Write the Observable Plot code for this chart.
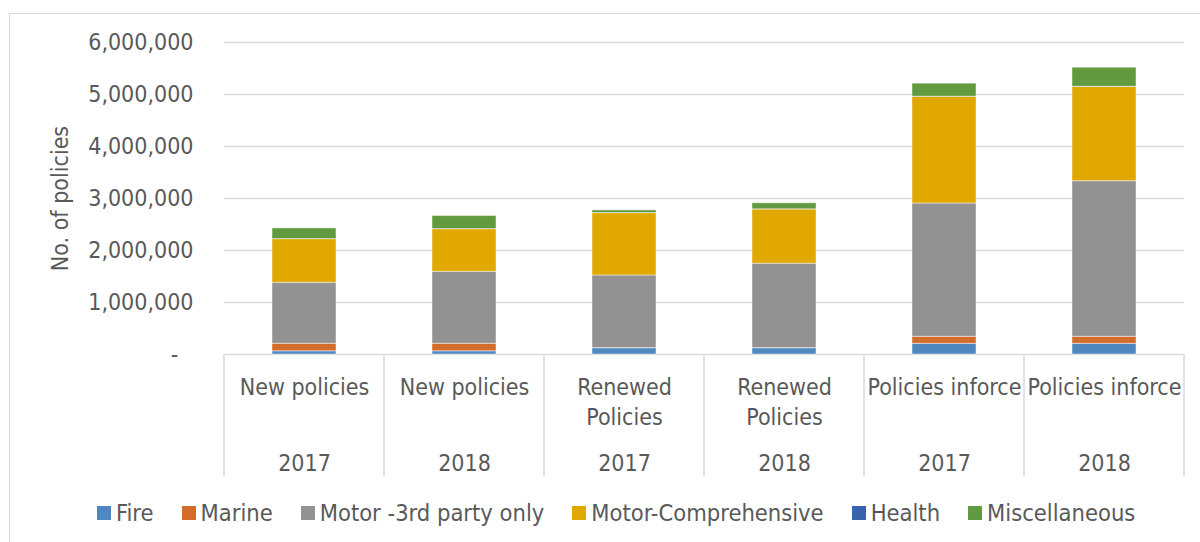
<!DOCTYPE html>
<html>
<head>
<meta charset="utf-8">
<script src="https://cdn.jsdelivr.net/npm/d3@7"></script>
<script src="https://cdn.jsdelivr.net/npm/@observablehq/plot@0.6"></script>
<style>
  html, body { margin: 0; padding: 0; background: #fff; overflow: hidden; }
  body { width: 1200px; height: 542px; position: relative; font-family: "DejaVu Sans Condensed", "DejaVu Sans", sans-serif; }
  #frame { position: absolute; left: 9px; top: 13px; width: 2000px; height: 2000px; border-left: 1.5px solid #d9d9d9; border-top: 1.5px solid #d9d9d9; pointer-events: none; }
  #chart { position: absolute; left: 0; top: 0; }
  #legend { position: absolute; left: 0; top: 495px; width: 1200px; height: 36px; display: flex; align-items: center; padding-left: 97px; box-sizing: border-box; font-size: 23.5px; color: #595959; }
  #legend .item { display: flex; align-items: center; margin-right: 28px; white-space: nowrap; }
  #legend .sw { width: 14px; height: 14px; margin-right: 5px; }
</style>
</head>
<body>
<div id="frame"></div>
<div id="chart"></div>
<div id="legend"></div>
<script>
// ---- data ----
const categories = ["New policies", "New policies", "Renewed\nPolicies", "Renewed\nPolicies", "Policies inforce", "Policies inforce"];
const years = ["2017", "2018", "2017", "2018", "2017", "2018"];
const seriesNames = ["Fire", "Marine", "Motor -3rd party only", "Motor-Comprehensive", "Health", "Miscellaneous"];
const seriesColors = ["#4f88c0", "#d36c2a", "#929292", "#e1a900", "#3a63ae", "#629a3f"];
const fire          = [62000, 62000, 121000, 121000, 205000, 205000];
const marine        = [144000, 144000, 3000, 3000, 135000, 135000];
const motorThird    = [1173000, 1384000, 1396000, 1622000, 2564000, 2993000];
const motorComp     = [839000, 820000, 1199000, 1044000, 2052000, 1814000];
const health        = [2000, 2000, 2000, 2000, 2000, 2000];
const miscellaneous = [205000, 250000, 50000, 116000, 250000, 366000];
const yTicks = [0, 1000000, 2000000, 3000000, 4000000, 5000000, 6000000];

const seriesValues = [fire, marine, motorThird, motorComp, health, miscellaneous];
const keys = categories.map((c, i) => c + "|" + years[i]);
const rows = [];
seriesNames.forEach((s, si) => {
  keys.forEach((k, i) => rows.push({key: k, series: s, value: seriesValues[si][i]}));
});
const catRows = keys.map((k, i) => ({key: k, cat: categories[i], year: years[i]}));

const textColor = "#595959";
const gridColor = "#d9d9d9";
const fmt = d => d === 0 ? "-\u2007\u200A" : d3.format(",")(d);

const plot = Plot.plot({
  width: 1200,
  height: 490,
  marginTop: 42,
  marginBottom: 136,
  marginLeft: 224,
  marginRight: 16,
  style: {fontFamily: '"DejaVu Sans Condensed", "DejaVu Sans", sans-serif', fontSize: "23px", color: textColor, background: "transparent", overflow: "visible"},
  x: {domain: keys, paddingInner: 0.6, paddingOuter: 0.3, axis: null},
  y: {domain: [0, 6000000], axis: null},
  color: {domain: seriesNames, range: seriesColors},
  marks: [
    Plot.gridY(yTicks, {stroke: gridColor, strokeOpacity: 1, strokeWidth: 1.5}),
    Plot.axisY(yTicks, {tickSize: 0, tickPadding: 31, tickFormat: fmt, fill: textColor, fontSize: 23, label: null}),
    Plot.barY(rows, Plot.stackY({order: seriesNames, x: "key", y: "value", fill: "series", stroke: "#ffffff", strokeWidth: 1, strokeOpacity: 0.45})),
    Plot.text(catRows, {x: "key", text: "cat", frameAnchor: "bottom", lineAnchor: "top", dy: 19, lineHeight: 1.3, fill: textColor, fontSize: 23}),
    Plot.text(catRows, {x: "key", text: "year", frameAnchor: "bottom", lineAnchor: "middle", dy: 109, fill: textColor, fontSize: 23}),
    Plot.text(["No. of policies"], {text: d => d, frameAnchor: "left", textAnchor: "middle", dx: -164, rotate: -90, fill: textColor, fontSize: 23})
  ]
});
document.getElementById("chart").appendChild(plot);

// category separators on the x axis, placed through the plot's own scales
const sx = plot.scale("x"), sy = plot.scale("y");
const step = sx.apply(keys[1]) - sx.apply(keys[0]);
const gap = (step - sx.bandwidth) / 2;
const bounds = keys.map(k => sx.apply(k) - gap).concat([sx.apply(keys[keys.length - 1]) + sx.bandwidth + gap]);
const y0 = sy.apply(0);
d3.select(plot).append("g")
  .selectAll("line").data(bounds).join("line")
  .attr("x1", d => d).attr("x2", d => d)
  .attr("y1", y0).attr("y2", y0 + 122)
  .attr("stroke", gridColor).attr("stroke-width", 1.5);

// legend
const legend = d3.select("#legend");
seriesNames.forEach((s, i) => {
  const it = legend.append("div").attr("class", "item");
  it.append("div").attr("class", "sw").style("background", seriesColors[i]);
  it.append("span").text(s);
});
</script>
</body>
</html>
